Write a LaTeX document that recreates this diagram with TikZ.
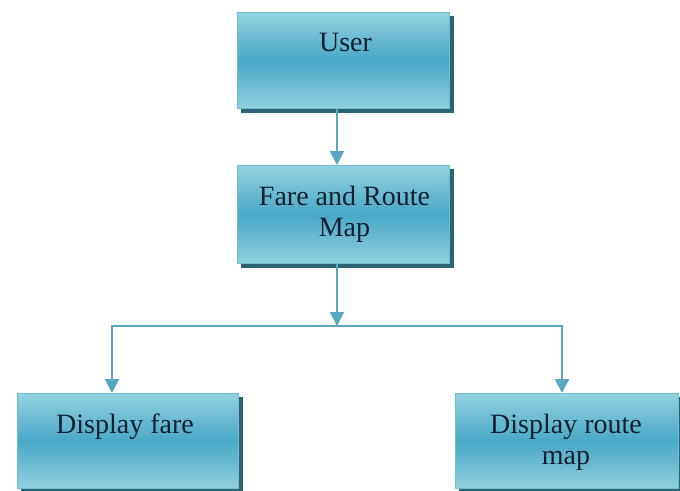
\documentclass[tikz,border=0pt]{standalone}
\usepackage{fontspec}
\setmainfont{Liberation Serif}
\usetikzlibrary{arrows.meta,backgrounds}
\definecolor{boxlight}{RGB}{148,210,226}
\definecolor{boxmid}{RGB}{72,168,198}
\definecolor{boxbot}{RGB}{146,208,224}
\definecolor{boxedge}{RGB}{112,190,212}
\definecolor{boxshadow}{RGB}{44,100,116}
\definecolor{arrowc}{RGB}{88,168,196}
\definecolor{txtc}{RGB}{20,32,48}
\tikzset{
  box/.style={rectangle, draw=boxedge, line width=1pt, anchor=north west,
    top color=boxlight, bottom color=boxbot, middle color=boxmid, inner sep=0pt},
  lbl/.style={anchor=north, inner sep=0pt, align=center, text=txtc,
    font=\fontsize{28}{31}\selectfont},
  conn/.style={draw=arrowc, line width=2pt},
  arr/.style={conn, -{Triangle[width=14pt,length=14pt]}},
  shd/.style={fill=boxshadow}
}
\begin{document}
\begin{tikzpicture}[x=1pt,y=-1pt]
\useasboundingbox (0,0) rectangle (680,490);
\node[box, minimum width=212, minimum height=96] (user) at (237,12) {};
\node[box, minimum width=212, minimum height=98] (fare) at (237,165) {};
\node[box, minimum width=221, minimum height=95] (dfare) at (17,393) {};
\node[box, minimum width=223, minimum height=95] (droute) at (455,393) {};
\begin{scope}[on background layer]
  \foreach \b in {user,fare,dfare,droute}{
    \fill[shd] ([shift={(4,4)}]\b.north west) rectangle ([shift={(4,4)}]\b.south east);
  }
\end{scope}
\node[lbl] (userT) at ([shift={(2,21)}]user.north) {User};
\node[lbl] (fareT) at ([shift={(1,21)}]fare.north) {Fare and Route\\Map};
\node[lbl] (dfareT) at ([shift={(-3,21)}]dfare.north) {Display fare};
\node[lbl] (drouteT) at ([shift={(-1,21)}]droute.north) {Display route\\map};
\coordinate (j) at (337,326);
\coordinate (jl) at (112,326);
\coordinate (jr) at (562,326);
\draw[arr] (user.south -| j) -- (fare.north -| j);
\draw[arr] (fare.south -| j) -- (j);
\draw[conn, line cap=rect] (jl) -- (jr);
\draw[arr] (jl) -- (dfare.north -| jl);
\draw[arr] (jr) -- (droute.north -| jr);
\end{tikzpicture}
\end{document}
